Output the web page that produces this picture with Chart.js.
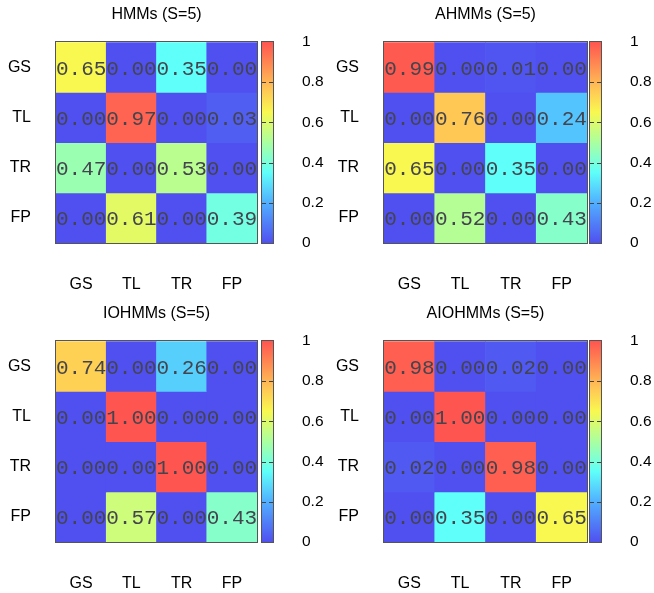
<!DOCTYPE html>
<html><head><meta charset="utf-8">
<script src="https://cdn.jsdelivr.net/npm/chart.js@4/dist/chart.umd.min.js"></script>
<style>
html,body{margin:0;padding:0;background:#fff;}
#wrap{position:relative;width:654px;height:593px;overflow:hidden;}
canvas{position:absolute;}
</style></head><body><div id="wrap"></div>
<script>
// ---- data ----
const states = ['GS','TL','TR','FP'];
const titles = ['HMMs (S=5)','AHMMs (S=5)','IOHMMs (S=5)','AIOHMMs (S=5)'];
const hmm    = [[0.65,0.00,0.35,0.00],[0.00,0.97,0.00,0.03],[0.47,0.00,0.53,0.00],[0.00,0.61,0.00,0.39]];
const ahmm   = [[0.99,0.00,0.01,0.00],[0.00,0.76,0.00,0.24],[0.65,0.00,0.35,0.00],[0.00,0.52,0.00,0.43]];
const iohmm  = [[0.74,0.00,0.26,0.00],[0.00,1.00,0.00,0.00],[0.00,0.00,1.00,0.00],[0.00,0.57,0.00,0.43]];
const aiohmm = [[0.98,0.00,0.02,0.00],[0.00,1.00,0.00,0.00],[0.02,0.00,0.98,0.00],[0.00,0.35,0.00,0.65]];
const colorbarTicks = [0,0.2,0.4,0.6,0.8,1];

// ---- palette ----
const paletteStops = [
  [0.00,[80,80,240]],
  [0.20,[80,175,255]],
  [0.35,[95,255,250]],
  [0.50,[170,255,160]],
  [0.65,[248,248,80]],
  [0.76,[255,200,85]],
  [1.00,[255,85,80]]
];
function colorFor(v){
  for(let i=1;i<paletteStops.length;i++){
    const [p1,c1]=paletteStops[i-1],[p2,c2]=paletteStops[i];
    if(v<=p2){
      const t=(v-p1)/(p2-p1);
      const c=c1.map((a,k)=>Math.round(a+(c2[k]-a)*t));
      return `rgb(${c[0]},${c[1]},${c[2]})`;
    }
  }
  const c=paletteStops[paletteStops.length-1][1];
  return `rgb(${c[0]},${c[1]},${c[2]})`;
}

Chart.defaults.font.family = '"Liberation Sans", Arial, sans-serif';
Chart.defaults.color = '#000';
const labelFont = {size:16, family:'"Liberation Sans", Arial, sans-serif'};

const wrap = document.getElementById('wrap');
function mkCanvas(left, top, w, h){
  const c=document.createElement('canvas');
  c.width=w; c.height=h; c.style.left=left+'px'; c.style.top=top+'px';
  c.style.width=w+'px'; c.style.height=h+'px';
  wrap.appendChild(c); return c;
}

const cellPlugin = {
  id:'cells',
  afterDatasetsDraw(chart){
    const ctx=chart.ctx; ctx.save();
    ctx.font='21px "Liberation Mono", "DejaVu Sans Mono", monospace';
    ctx.fillStyle='#44444e'; ctx.textAlign='center'; ctx.textBaseline='middle';
    chart.data.datasets.forEach((ds,i)=>{
      chart.getDatasetMeta(i).data.forEach((bar,j)=>{
        const p=bar.getProps(['x','y','base'],true);
        ctx.fillText(ds.values[j].toFixed(2), p.x, (p.y+p.base)/2+2);
      });
    });
    const a=chart.chartArea;
    ctx.strokeStyle='#555'; ctx.lineWidth=1;
    ctx.strokeRect(Math.round(a.left)-0.5, Math.round(a.top)-0.5, Math.round(a.width)+1, Math.round(a.height)+1);
    ctx.restore();
  }
};

const cbPlugin = {
  id:'cbframe',
  afterDatasetsDraw(chart){
    const ctx=chart.ctx, a=chart.chartArea, y=chart.scales.y;
    ctx.save();
    ctx.strokeStyle='#444'; ctx.lineWidth=1;
    colorbarTicks.slice(1,-1).forEach(v=>{
      const py=Math.round(y.getPixelForValue(v))+0.5;
      ctx.beginPath();
      ctx.moveTo(a.left,py); ctx.lineTo(a.left+4,py);
      ctx.moveTo(a.right-4,py); ctx.lineTo(a.right,py);
      ctx.stroke();
    });
    ctx.strokeStyle='#555';
    ctx.strokeRect(Math.round(a.left)-0.5, Math.round(a.top)-0.5, Math.round(a.width)+1, Math.round(a.height)+1);
    ctx.restore();
  }
};

function heatmap(left, top, title, matrix, areaRight){
  const W=262, H=300;
  const c=mkCanvas(left, top, W, H);
  new Chart(c,{
    type:'bar',
    data:{labels:states, datasets:matrix.map((row,r)=>({
      label:states[r], data:row.map(()=>1), values:row,
      backgroundColor:row.map(colorFor), borderWidth:0,
      barPercentage:1, categoryPercentage:1
    }))},
    options:{
      responsive:false, animation:false, devicePixelRatio:1,
      layout:{padding:{left:0,right:W-areaRight,top:0,bottom:0}},
      plugins:{
        legend:{display:false}, tooltip:{enabled:false},
        title:{display:true, text:title, fullSize:false, color:'#000',
          font:{size:16, weight:'normal', family:'"Liberation Sans", Arial, sans-serif'},
          padding:{top:5,bottom:18}}
      },
      scales:{
        x:{stacked:true, grid:{display:false,drawTicks:false}, border:{display:false},
           ticks:{font:labelFont, color:'#000', padding:32, maxRotation:0},
           afterFit(a){a.height=57; a.paddingLeft=0; a.paddingRight=0;}},
        y:{stacked:true, reverse:true, min:0, max:4,
           grid:{display:false,drawTicks:false}, border:{display:false},
           afterBuildTicks(a){a.ticks=[0.5,1.5,2.5,3.5].map(v=>({value:v}));},
           ticks:{font:labelFont, color:'#000', padding:25, callback:(v)=>states[Math.floor(v)]},
           afterFit(a){a.width=56; a.paddingTop=0; a.paddingBottom=0;}}
      }
    },
    plugins:[cellPlugin]
  });
}

function colorbar(left, top){
  const W=80, H=300;
  const c=mkCanvas(left, top, W, H);
  new Chart(c,{
    type:'bar',
    data:{labels:[''], datasets:[{data:[1], borderWidth:0, barPercentage:1, categoryPercentage:1,
      backgroundColor:(ctx)=>{
        const a=ctx.chart.chartArea; if(!a) return '#888';
        const g=ctx.chart.ctx.createLinearGradient(0,a.bottom,0,a.top);
        paletteStops.forEach(([p,col])=>g.addColorStop(p,`rgb(${col[0]},${col[1]},${col[2]})`));
        return g;
      }}]},
    options:{
      responsive:false, animation:false, devicePixelRatio:1,
      layout:{padding:{left:12,right:0,top:42,bottom:57}},
      plugins:{legend:{display:false}, tooltip:{enabled:false}},
      scales:{
        x:{display:false},
        y:{position:'right', min:0, max:1,
           grid:{display:false,drawTicks:false}, border:{display:false},
           afterBuildTicks(a){a.ticks=colorbarTicks.map(v=>({value:v}));},
           ticks:{font:{size:15.5}, color:'#000', padding:29, callback:(v)=>String(v)},
           afterFit(a){a.width=57;}}
      }
    },
    plugins:[cbPlugin]
  });
}

heatmap(0,   0,   titles[0], hmm,    257);
heatmap(328, 0,   titles[1], ahmm,   259);
heatmap(0,   299, titles[2], iohmm,  257);
heatmap(328, 299, titles[3], aiohmm, 259);
colorbar(250, 0);
colorbar(578, 0);
colorbar(250, 299);
colorbar(578, 299);
</script></body></html>
